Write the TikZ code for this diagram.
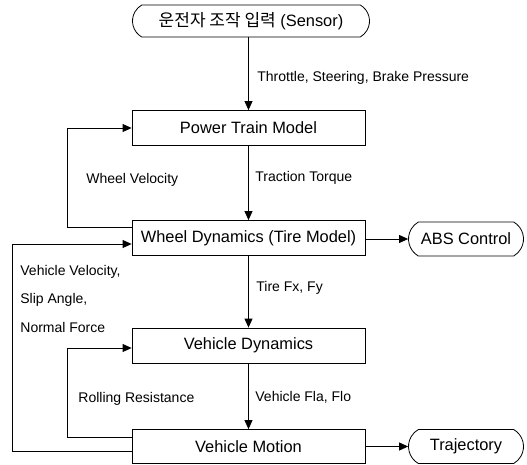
\documentclass[tikz,border=0pt]{standalone}
\usepackage{fontspec}
\setmainfont{Liberation Sans}
\newfontfamily\kor{Noto Sans CJK KR}
\usetikzlibrary{arrows.meta,shapes.misc}

\begin{document}
\begin{tikzpicture}[x=1pt,y=-1pt,line width=0.8pt]
\tikzstyle{block}=[draw,rectangle,minimum width=233pt,minimum height=35pt,inner sep=0pt,font=\fontsize{16.4}{18}\selectfont]
\tikzstyle{term}=[draw,rounded rectangle,rounded rectangle arc length=120,minimum width=115pt,minimum height=34pt,inner sep=0pt,font=\fontsize{16.4}{18}\selectfont]
\tikzstyle{lbl}=[anchor=west,inner sep=0pt,font=\fontsize{14}{16}\selectfont]
\tikzstyle{flow}=[-{Triangle[length=9pt,width=8pt]}]
\useasboundingbox (0,0) rectangle (527,464);
% nodes
\node [term,minimum width=237pt,minimum height=32pt] (sensor) at (251,21) {{\kor\fontsize{17}{18}\selectfont 운전자 조작 입력} (Sensor)};
\node [block] (ptm) at (248.5,128) {Power Train Model};
\node [block] (wd) at (248.5,238) {Wheel Dynamics (Tire Model)};
\node [block] (vd) at (248.5,345.5) {Vehicle Dynamics};
\node [block,minimum height=34pt] (vm) at (248.5,446.5) {Vehicle Motion};
\node [term] (abs) at (466,239) {ABS Control};
\node [term] (traj) at (466,446.5) {Trajectory};
% main chain
\draw [flow] (sensor.south -| ptm) -- (ptm);
\draw [flow] (ptm) -- (wd);
\draw [flow] (wd) -- (vd);
\draw [flow] (vd) -- (vm);
\draw [flow] (wd.east |- abs) -- (abs);
\draw [flow] (vm.east |- traj) -- (traj);
% feedback loops
\draw [flow] ([yshift=11pt]wd.west) -- ++(-64,0) |- (ptm.west);
\draw [flow] ([yshift=-4.5pt]vm.west) -- ++(-119,0) |- ([yshift=-6pt]wd.west);
\draw [flow] ([yshift=9.5pt]vm.west) -- ++(-64,0) |- ([yshift=-2.5pt]vd.west);
% labels
\node [lbl] (thr) at (257,78) {Throttle, Steering, Brake Pressure};
\node [lbl] (tt) at (255,178) {Traction Torque};
\node [lbl] (wv) at (86,180) {Wheel Velocity};
\node [lbl] (tf) at (256,288) {Tire Fx, Fy};
\node [lbl] (vv) at (20,272) {Vehicle Velocity,};
\node [lbl] (sa) at (20,300) {Slip Angle,};
\node [lbl] (nf) at (20,327) {Normal Force};
\node [lbl] (rr) at (78,399) {Rolling Resistance};
\node [lbl] (vf) at (255,397) {Vehicle Fla, Flo};
\end{tikzpicture}
\end{document}
